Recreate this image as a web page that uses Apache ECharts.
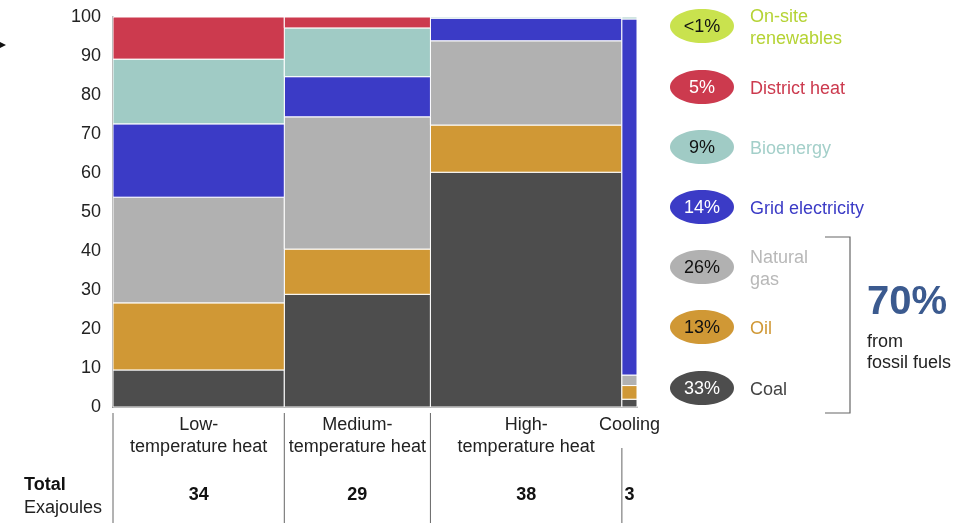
<!DOCTYPE html>
<html><head><meta charset="utf-8">
<script src="https://cdn.jsdelivr.net/npm/echarts@6/dist/echarts.min.js"></script>
<style>html,body{margin:0;padding:0;background:#fff}#c{width:966px;height:523px}</style>
</head><body><div id="c"></div>
<script>
const categories = ['Low-\ntemperature heat', 'Medium-\ntemperature heat', 'High-\ntemperature heat', 'Cooling'];
const totals = [34, 29, 38, 3];
const coal = [9.5, 28.9, 60.2, 2.0];
const oil = [17.2, 11.6, 12.1, 3.5];
const gas = [27.1, 33.9, 21.6, 2.7];
const gridElec = [18.8, 10.3, 5.8, 91.3];
const bio = [16.6, 12.5, 0.3, 0.5];
const district = [10.8, 2.8, 0, 0];
const onsite = [0, 0, 0, 0];
const sourceNames = ['On-site\nrenewables', 'District heat', 'Bioenergy', 'Grid electricity', 'Natural\ngas', 'Oil', 'Coal'];
const sourceShares = ['<1%', '5%', '9%', '14%', '26%', '13%', '33%'];
const yTicks = [0, 10, 20, 30, 40, 50, 60, 70, 80, 90, 100];

const FONT = '"Liberation Sans", Arial, sans-serif';
const FS = 18;
// stacking order bottom -> top
const stack = [
  {name: 'Coal', vals: coal, color: '#4d4d4d'},
  {name: 'Oil', vals: oil, color: '#d09835'},
  {name: 'Natural gas', vals: gas, color: '#b1b1b1'},
  {name: 'Grid electricity', vals: gridElec, color: '#3b3bc6'},
  {name: 'Bioenergy', vals: bio, color: '#a0cbc5'},
  {name: 'District heat', vals: district, color: '#cc3a4e'},
  {name: 'On-site renewables', vals: onsite, color: '#c5e04a'}
];
const ellipseFill = ['#c9e24e', '#cc3a4e', '#a0cbc5', '#3b3bc6', '#b1b1b1', '#d09835', '#4d4d4d'];
const ellipseText = ['#111', '#fff', '#111', '#fff', '#111', '#111', '#fff'];
const labelColor = ['#b5d334', '#cc3a4e', '#a3cfc9', '#3b3bc6', '#b8b8b8', '#d09835', '#444'];

const starts = [];
let acc = 0;
totals.forEach(t => { starts.push(acc); acc += t; });
const xMax = acc;

const base = totals.map(() => 0);
const series = stack.map(s => {
  const data = [];
  s.vals.forEach((v, i) => {
    data.push([starts[i], starts[i] + totals[i], base[i], base[i] + v]);
    base[i] += v;
  });
  return {
    type: 'custom', name: s.name, clip: false,
    data: data,
    renderItem: function (params, api) {
      const y0 = api.value(2), y1 = api.value(3);
      if (y1 - y0 <= 0) return null;
      const p0 = api.coord([api.value(0), y0]);
      const p1 = api.coord([api.value(1), y1]);
      return {type: 'rect', shape: {x: p0[0], y: p1[1], width: p1[0] - p0[0], height: p0[1] - p1[1]},
        style: {fill: s.color, stroke: '#fff', lineWidth: 1}};
    }
  };
});

// category labels, totals and separators
series.push({
  type: 'custom', name: 'labels', clip: false, silent: true,
  data: totals.map((t, i) => [starts[i], starts[i] + t, t, i]),
  renderItem: function (params, api) {
    const i = api.value(3);
    const p0 = api.coord([api.value(0), 0]);
    const p1 = api.coord([api.value(1), 0]);
    const cx = (p0[0] + p1[0]) / 2;
    const isLast = i === categories.length - 1;
    return {type: 'group', children: [
      {type: 'line', shape: {x1: p0[0], y1: isLast ? p0[1] + 41 : p0[1] + 6, x2: p0[0], y2: 523},
        style: {stroke: '#666', lineWidth: 1}},
      {type: 'text', style: {text: categories[i], x: cx, y: p0[1] + 7, align: 'center', verticalAlign: 'top',
        font: FS + 'px ' + FONT, fill: '#222', lineHeight: 22}},
      {type: 'text', style: {text: String(api.value(2)), x: cx, y: 495, align: 'center', verticalAlign: 'middle',
        font: 'bold ' + FS + 'px ' + FONT, fill: '#111'}}
    ]};
  }
});

const graphics = [];
const legendY = [26, 87, 147, 207, 267, 327, 388];
sourceNames.forEach((n, i) => {
  graphics.push({type: 'ellipse', shape: {cx: 702, cy: legendY[i], rx: 32, ry: 17}, style: {fill: ellipseFill[i]}});
  graphics.push({type: 'text', style: {text: sourceShares[i], x: 702, y: legendY[i] + 1, align: 'center', verticalAlign: 'middle',
    font: FS + 'px ' + FONT, fill: ellipseText[i]}});
  graphics.push({type: 'text', style: {text: n, x: 750, y: legendY[i] + 2, align: 'left', verticalAlign: 'middle',
    font: FS + 'px ' + FONT, fill: labelColor[i], lineHeight: 22}});
});
graphics.push({type: 'polyline', shape: {points: [[825, 237], [850, 237], [850, 413], [825, 413]]}, style: {stroke: '#666', lineWidth: 1.2, fill: null}});
graphics.push({type: 'text', style: {text: '70%', x: 867, y: 303, align: 'left', verticalAlign: 'middle', font: 'bold 40px ' + FONT, fill: '#3b5a8f'}});
graphics.push({type: 'text', style: {text: 'from\nfossil fuels', x: 867, y: 353, align: 'left', verticalAlign: 'middle', font: FS + 'px ' + FONT, fill: '#222', lineHeight: 21}});
graphics.push({type: 'text', style: {text: 'Total', x: 24, y: 485, align: 'left', verticalAlign: 'middle', font: 'bold ' + FS + 'px ' + FONT, fill: '#111'}});
graphics.push({type: 'text', style: {text: 'Exajoules', x: 24, y: 508, align: 'left', verticalAlign: 'middle', font: FS + 'px ' + FONT, fill: '#222'}});
graphics.push({type: 'polygon', shape: {points: [[0, 42], [6, 45], [0, 48]]}, style: {fill: '#111'}});

const chart = echarts.init(document.getElementById('c'), null, {renderer: 'canvas'});
chart.setOption({
  animation: false,
  backgroundColor: '#fff',
  grid: {left: 113, right: 329, top: 17, bottom: 116},
  xAxis: {type: 'value', min: 0, max: xMax, axisLabel: {show: false}, axisTick: {show: false}, splitLine: {show: false},
    axisLine: {show: true, lineStyle: {color: '#555', width: 1.5}}},
  yAxis: {type: 'value', min: yTicks[0], max: yTicks[yTicks.length - 1], interval: 10,
    axisLine: {show: true, lineStyle: {color: '#555', width: 1.5}}, axisTick: {show: false}, splitLine: {show: false},
    axisLabel: {fontSize: FS, color: '#222', fontFamily: FONT, margin: 12}},
  series: series,
  graphic: graphics
});
</script></body></html>
